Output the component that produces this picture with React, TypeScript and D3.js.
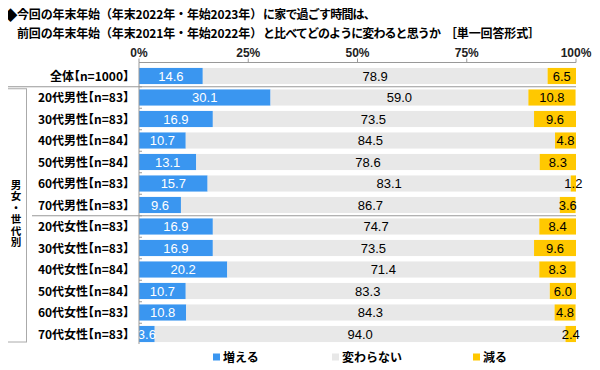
import { useEffect, useRef } from "react";
import * as d3 from "d3";

const groups = ["全体", "20代男性", "30代男性", "40代男性", "50代男性", "60代男性", "70代男性",
  "20代女性", "30代女性", "40代女性", "50代女性", "60代女性", "70代女性"];
const sampleSizes = ["n=1000", "n=83", "n=83", "n=84", "n=84", "n=83", "n=83",
  "n=83", "n=83", "n=84", "n=84", "n=83", "n=83"];
const increase = [14.6, 30.1, 16.9, 10.7, 13.1, 15.7, 9.6, 16.9, 16.9, 20.2, 10.7, 10.8, 3.6];
const unchanged = [78.9, 59.0, 73.5, 84.5, 78.6, 83.1, 86.7, 74.7, 73.5, 71.4, 83.3, 84.3, 94.0];
const decrease = [6.5, 10.8, 9.6, 4.8, 8.3, 1.2, 3.6, 8.4, 9.6, 8.3, 6.0, 4.8, 2.4];
const seriesNames = ["増える", "変わらない", "減る"];
const colors = ["#3a96f0", "#e8e8e8", "#ffc800"];
const ticks = [0, 25, 50, 75, 100];

// title pieces: [text, start x, end x, baseline]
const titleParts = [
  ["今回の年末年始（年末2022年・年始2023年）", 17, 262, 19],
  ["に家で過ごす時間は、", 263, 375, 19],
  ["前回の年末年始（年末2021年・年始2022年）", 17, 262, 38],
  ["と比べてどのように変わると思うか", 263, 440, 38],
  ["［単一回答形式］", 445, 540, 38],
];

const JP = "'Noto Sans CJK JP', sans-serif";
const NUM = "'Liberation Sans', Arial, sans-serif";

const App = () => {
  const svgRef = useRef(null);

  useEffect(() => {
    const width = 600;
    const height = 370;
    const svg = d3.select(svgRef.current).attr("width", width).attr("height", height);
    svg.selectAll("*").remove();

    const x = d3.scaleLinear().domain([0, 100]).range([139, 576]);
    const y = d3
      .scaleBand()
      .domain(groups)
      .range([65.25, 344.75])
      .paddingInner(0.25)
      .paddingOuter(0.125);
    const bh = y.bandwidth();
    const step = y.step();

    // title
    svg.append("text").attr("x", 10.5).attr("y", 19.5)
      .attr("text-anchor", "middle")
      .attr("font-family", JP).attr("font-size", 14)
      .attr("fill", "#000")
      .text("◆");
    const titleTexts = svg.append("g").selectAll("text").data(titleParts).join("text")
      .attr("x", (d) => d[1]).attr("y", (d) => d[3])
      .attr("font-family", JP).attr("font-weight", "bold").attr("font-size", 12)
      .text((d) => d[0]);
    const fit = () => {
      titleTexts.each(function (d) {
        const sel = d3.select(this).attr("letter-spacing", 0);
        const len = this.getComputedTextLength();
        const n = d[0].length;
        sel.attr("letter-spacing", (d[2] - d[1] - len) / n);
      });
    };
    fit();
    if (document.fonts && document.fonts.ready) document.fonts.ready.then(fit);

    // axis on top
    const axisY = 62.5;
    svg.append("line")
      .attr("x1", x(0)).attr("x2", x(100)).attr("y1", axisY).attr("y2", axisY)
      .attr("stroke", "#999");
    svg.append("g").selectAll("line").data(ticks).join("line")
      .attr("x1", (d) => x(d)).attr("x2", (d) => x(d))
      .attr("y1", axisY - 4).attr("y2", axisY)
      .attr("stroke", "#999");
    svg.append("g").selectAll("text").data(ticks).join("text")
      .attr("x", (d) => x(d)).attr("y", 57)
      .attr("text-anchor", "middle")
      .attr("font-family", NUM).attr("font-size", 12).attr("font-weight", "bold")
      .attr("fill", "#222")
      .text((d) => `${d}%`);

    // stacked rows
    const rows = groups.map((c, i) => {
      const vals = [increase[i], unchanged[i], decrease[i]];
      let acc = 0;
      return {
        cat: c,
        segs: vals.map((v, k) => {
          const s = { k, v, x0: acc, x1: acc + v };
          acc += v;
          return s;
        }),
      };
    });

    const rowG = svg.append("g").selectAll("g").data(rows).join("g")
      .attr("transform", (d) => `translate(0,${y(d.cat)})`);

    rowG.selectAll("rect").data((d) => d.segs).join("rect")
      .attr("x", (d) => x(d.x0))
      .attr("width", (d) => x(Math.min(d.x1, 100)) - x(d.x0))
      .attr("height", bh)
      .attr("fill", (d) => colors[d.k]);

    rowG.selectAll("text.val").data((d) => d.segs).join("text")
      .attr("class", "val")
      .attr("x", (d) => x((d.x0 + Math.min(d.x1, 100)) / 2))
      .attr("y", bh / 2 + 4.5)
      .attr("text-anchor", "middle")
      .attr("font-family", NUM).attr("font-size", 13)
      .attr("fill", (d) => (d.k === 0 ? "#fff" : "#000"))
      .text((d) => d.v.toFixed(1));

    // small ticks at left axis between rows
    svg.append("g").selectAll("line").data(groups.slice(1)).join("line")
      .attr("x1", x(0)).attr("x2", x(0) + 3)
      .attr("y1", (d) => y(d) - (step - bh) / 2)
      .attr("y2", (d) => y(d) - (step - bh) / 2)
      .attr("stroke", "#999");

    // vertical axis line
    svg.append("line")
      .attr("x1", x(0)).attr("x2", x(0))
      .attr("y1", axisY).attr("y2", 344)
      .attr("stroke", "#999");

    // category labels, half-width brackets via 'halt'
    svg.append("g").selectAll("text").data(groups).join("text")
      .attr("x", 129)
      .attr("y", (d) => y(d) + bh / 2 + 4.5)
      .attr("text-anchor", "end")
      .attr("font-family", JP).attr("font-weight", "bold").attr("font-size", 12)
      .style("font-feature-settings", "'halt'")
      .text((d, i) => `${d}【${sampleSizes[i]}】`);

    // separators
    const sep1 = y(groups[1]) - (step - bh) / 2;
    const sep2 = y(groups[7]) - (step - bh) / 2;
    svg.append("line").attr("x1", 5).attr("x2", x(100)).attr("y1", sep1).attr("y2", sep1)
      .attr("stroke", "#999");
    svg.append("line").attr("x1", 32).attr("x2", x(100)).attr("y1", sep2).attr("y2", sep2)
      .attr("stroke", "#999");

    // group box with vertical label
    svg.append("rect")
      .attr("x", 5.5).attr("y", sep1 + 2).attr("width", 21).attr("height", 342 - sep1 - 2)
      .attr("fill", "none").attr("stroke", "#aaa");
    svg.append("text")
      .attr("x", 16).attr("y", 214)
      .attr("text-anchor", "middle")
      .attr("font-family", JP).attr("font-weight", "bold").attr("font-size", 10.5)
      .attr("letter-spacing", 1)
      .style("writing-mode", "vertical-rl")
      .text("男女・世代別");

    // legend
    const legendX = [213, 332, 473];
    const lg = svg.append("g").selectAll("g").data(seriesNames).join("g")
      .attr("transform", (d, i) => `translate(${legendX[i]},357)`);
    lg.append("rect").attr("x", 0).attr("y", -3.5).attr("width", 7).attr("height", 7)
      .attr("fill", (d, i) => colors[i]);
    lg.append("text").attr("x", 10).attr("y", 4.5)
      .attr("font-family", JP).attr("font-weight", "bold").attr("font-size", 12)
      .text((d) => d);
  }, []);

  return (
    <div style={{ margin: -8 }}>
      <svg ref={svgRef}></svg>
    </div>
  );
};

export default App;
